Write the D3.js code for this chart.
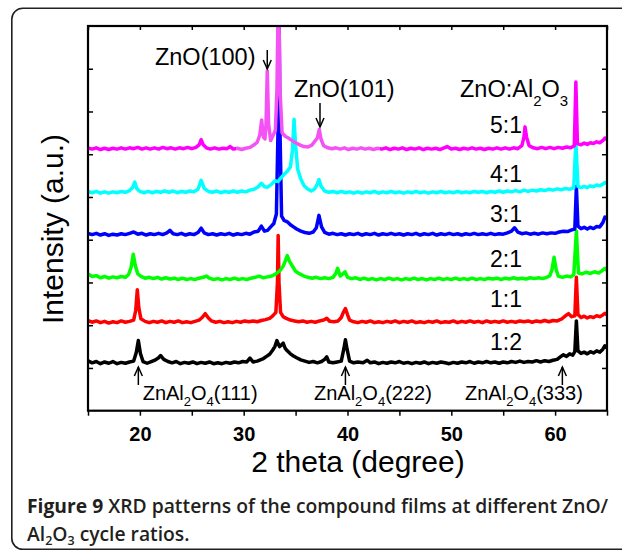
<!DOCTYPE html>
<html>
<head>
<meta charset="utf-8">
<script src="https://cdn.jsdelivr.net/npm/d3@7"></script>
<style>
  body { margin: 0; background: #fff; }
  svg { display: block; font-family: "Liberation Sans", Arial, sans-serif; }
  .axis path.domain { display: none; }
  .axis line { stroke: #000; stroke-width: 1.5; }
  .caption { font-family: "Open Sans", sans-serif; font-size: 19.3px; font-weight: 600; fill: #231f20; }
</style>
</head>
<body>
<script>
// XRD patterns, stacked with offsets as in the figure: [2theta, intensity (a.u.)]
const ratio12 = [[15,1.17],[15.4,1.12],[15.8,1.15],[16.2,1.10],[16.6,1.14],[17,1.11],[17.4,1.15],[17.8,1.10],[18.2,1.13],[18.6,1.11],[19,1.14],[19.4,1.16],[19.65,1.36],[19.85,1.64],[20.05,1.34],[20.3,1.15],[20.7,1.11],[21.1,1.15],[21.5,1.19],[21.8,1.24],[22.0,1.29],[22.3,1.2],[22.7,1.15],[23.1,1.12],[23.5,1.15],[23.9,1.1],[24.3,1.13],[24.7,1.11],[25.1,1.14],[25.5,1.1],[25.9,1.13],[26.3,1.11],[26.7,1.14],[27.1,1.1],[27.5,1.12],[27.9,1.1],[28.3,1.13],[28.7,1.11],[29.1,1.14],[29.5,1.12],[29.9,1.15],[30.3,1.14],[30.6,1.23],[30.9,1.14],[31.3,1.16],[31.6,1.19],[31.9,1.22],[32.2,1.27],[32.5,1.32],[32.8,1.42],[33.0,1.5],[33.2,1.64],[33.45,1.5],[33.65,1.54],[33.8,1.58],[34.0,1.46],[34.2,1.4],[34.5,1.33],[34.8,1.28],[35.1,1.24],[35.5,1.19],[35.9,1.16],[36.3,1.13],[36.7,1.15],[37.1,1.12],[37.5,1.15],[37.8,1.2],[38.0,1.26],[38.2,1.14],[38.6,1.12],[39.0,1.14],[39.4,1.16],[39.65,1.45],[39.8,1.66],[39.95,1.45],[40.2,1.16],[40.6,1.12],[41.0,1.14],[41.5,1.12],[41.9,1.18],[42.2,1.12],[42.6,1.14],[43.0,1.1],[43.4,1.13],[43.8,1.11],[44.2,1.14],[44.6,1.12],[45.0,1.15],[45.4,1.11],[45.8,1.13],[46.2,1.1],[46.6,1.13],[47.0,1.11],[47.4,1.14],[47.8,1.1],[48.2,1.13],[48.6,1.11],[49.0,1.14],[49.4,1.12],[49.8,1.1],[50.2,1.13],[50.6,1.11],[51.0,1.14],[51.4,1.12],[51.8,1.15],[52.2,1.11],[52.6,1.14],[53.0,1.12],[53.4,1.15],[53.8,1.12],[54.2,1.14],[54.6,1.11],[55.0,1.14],[55.4,1.12],[55.8,1.15],[56.2,1.13],[56.6,1.16],[57.0,1.13],[57.4,1.15],[57.8,1.14],[58.2,1.17],[58.6,1.14],[59.0,1.17],[59.4,1.15],[59.8,1.18],[60.2,1.2],[60.5,1.26],[60.8,1.31],[61.1,1.27],[61.4,1.33],[61.7,1.3],[61.9,1.38],[62.05,2.1],[62.2,1.4],[62.5,1.34],[62.8,1.37],[63.1,1.33],[63.4,1.38],[63.7,1.35],[64.0,1.4],[64.3,1.37],[64.6,1.44],[64.8,1.52],[65,1.47]];

const ratio11 = [[15,2.11],[15.4,2.07],[15.8,2.1],[16.2,2.06],[16.6,2.09],[17,2.05],[17.4,2.08],[17.8,2.06],[18.2,2.1],[18.6,2.07],[19,2.09],[19.4,2.12],[19.6,2.35],[19.75,2.83],[19.9,2.4],[20.1,2.15],[20.5,2.09],[20.9,2.06],[21.3,2.09],[21.7,2.07],[22.1,2.1],[22.5,2.06],[22.9,2.09],[23.3,2.07],[23.7,2.1],[24.1,2.06],[24.5,2.08],[24.9,2.06],[25.3,2.09],[25.7,2.12],[26.0,2.18],[26.3,2.27],[26.6,2.17],[26.9,2.1],[27.3,2.07],[27.7,2.09],[28.1,2.06],[28.5,2.08],[28.9,2.06],[29.3,2.09],[29.7,2.07],[30.1,2.1],[30.5,2.08],[30.9,2.1],[31.3,2.08],[31.7,2.11],[32.1,2.13],[32.5,2.16],[32.8,2.22],[33.1,2.3],[33.25,3.0],[33.32,4.1],[33.4,3.0],[33.55,2.3],[33.8,2.2],[34.1,2.16],[34.5,2.12],[34.9,2.1],[35.3,2.08],[35.7,2.1],[36.1,2.07],[36.5,2.09],[36.9,2.07],[37.3,2.1],[37.7,2.12],[38.0,2.16],[38.3,2.09],[38.7,2.08],[39.1,2.1],[39.4,2.18],[39.6,2.3],[39.8,2.39],[40.0,2.25],[40.2,2.12],[40.6,2.08],[41.0,2.06],[41.4,2.09],[41.8,2.07],[42.2,2.1],[42.6,2.06],[43.0,2.08],[43.4,2.06],[43.8,2.09],[44.2,2.07],[44.6,2.1],[45.0,2.06],[45.4,2.09],[45.8,2.07],[46.2,2.1],[46.6,2.06],[47.0,2.08],[47.4,2.06],[47.8,2.09],[48.2,2.07],[48.6,2.1],[49.0,2.06],[49.4,2.08],[49.8,2.07],[50.2,2.1],[50.6,2.06],[51.0,2.09],[51.4,2.07],[51.8,2.1],[52.2,2.07],[52.6,2.09],[53.0,2.06],[53.4,2.1],[53.8,2.07],[54.2,2.09],[54.6,2.07],[55.0,2.1],[55.4,2.07],[55.8,2.09],[56.2,2.07],[56.6,2.1],[57.0,2.08],[57.4,2.1],[57.8,2.07],[58.2,2.1],[58.6,2.08],[59.0,2.11],[59.4,2.08],[59.8,2.11],[60.2,2.1],[60.6,2.14],[61.0,2.22],[61.3,2.27],[61.6,2.2],[61.9,2.22],[62.05,3.12],[62.2,2.25],[62.5,2.18],[62.8,2.21],[63.1,2.17],[63.4,2.2],[63.7,2.18],[64.0,2.22],[64.3,2.2],[64.6,2.24],[64.8,2.28],[65,2.24]];

const ratio21 = [[15,3.2],[15.4,3.14],[15.8,3.16],[16.2,3.11],[16.6,3.14],[17,3.1],[17.4,3.13],[17.8,3.11],[18.2,3.14],[18.6,3.12],[18.9,3.18],[19.15,3.35],[19.36,3.66],[19.55,3.4],[19.8,3.2],[20.1,3.14],[20.5,3.1],[20.9,3.12],[21.3,3.09],[21.7,3.12],[22.1,3.08],[22.5,3.11],[22.9,3.08],[23.3,3.1],[23.7,3.07],[24.1,3.1],[24.5,3.07],[24.9,3.09],[25.3,3.07],[25.7,3.1],[26.1,3.12],[26.4,3.15],[26.7,3.1],[27.1,3.07],[27.5,3.09],[27.9,3.06],[28.3,3.09],[28.7,3.07],[29.1,3.1],[29.5,3.07],[29.9,3.09],[30.3,3.07],[30.7,3.1],[31.1,3.12],[31.5,3.15],[31.9,3.11],[32.3,3.13],[32.7,3.15],[33.1,3.2],[33.5,3.28],[33.8,3.38],[34.0,3.5],[34.2,3.63],[34.4,3.5],[34.7,3.38],[35.0,3.26],[35.4,3.2],[35.8,3.15],[36.2,3.12],[36.6,3.1],[37.0,3.12],[37.4,3.09],[37.8,3.11],[38.2,3.09],[38.6,3.12],[38.85,3.2],[39.05,3.33],[39.3,3.15],[39.55,3.2],[39.76,3.25],[40.0,3.12],[40.4,3.09],[40.8,3.11],[41.2,3.07],[41.6,3.1],[42.0,3.07],[42.4,3.09],[42.8,3.06],[43.2,3.09],[43.6,3.07],[44.0,3.1],[44.4,3.07],[44.8,3.09],[45.2,3.06],[45.6,3.09],[46.0,3.07],[46.4,3.1],[46.8,3.07],[47.2,3.09],[47.6,3.06],[48.0,3.09],[48.4,3.07],[48.8,3.1],[49.2,3.07],[49.6,3.09],[50.0,3.07],[50.4,3.1],[50.8,3.07],[51.2,3.09],[51.6,3.07],[52.0,3.1],[52.4,3.07],[52.8,3.09],[53.2,3.07],[53.6,3.1],[54.0,3.08],[54.4,3.1],[54.8,3.07],[55.2,3.1],[55.6,3.08],[56.0,3.11],[56.4,3.08],[56.8,3.1],[57.2,3.08],[57.6,3.11],[58.0,3.09],[58.4,3.11],[58.8,3.09],[59.2,3.12],[59.5,3.16],[59.7,3.3],[59.9,3.59],[60.1,3.3],[60.3,3.15],[60.7,3.12],[61.1,3.15],[61.5,3.13],[61.8,3.18],[62.05,4.2],[62.25,3.22],[62.6,3.2],[63.0,3.24],[63.4,3.21],[63.8,3.25],[64.2,3.22],[64.5,3.27],[64.8,3.33],[65,3.28]];

const ratio31 = [[15,4.15],[15.4,4.12],[15.8,4.15],[16.2,4.11],[16.6,4.14],[17,4.1],[17.4,4.13],[17.8,4.11],[18.2,4.14],[18.6,4.12],[19,4.15],[19.4,4.18],[19.8,4.13],[20.2,4.15],[20.6,4.11],[21,4.14],[21.4,4.12],[21.8,4.15],[22.2,4.12],[22.6,4.16],[22.9,4.22],[23.2,4.14],[23.6,4.12],[24,4.15],[24.4,4.11],[24.8,4.14],[25.2,4.12],[25.6,4.17],[25.9,4.27],[26.2,4.16],[26.6,4.12],[27,4.14],[27.4,4.11],[27.8,4.14],[28.2,4.12],[28.6,4.15],[29,4.11],[29.4,4.14],[29.8,4.12],[30.2,4.15],[30.6,4.13],[31.0,4.18],[31.4,4.2],[31.7,4.32],[32.0,4.2],[32.3,4.22],[32.6,4.3],[32.9,4.38],[33.15,4.6],[33.3,6.5],[33.4,9.6],[33.5,6.5],[33.65,4.55],[33.9,4.45],[34.2,4.42],[34.5,4.35],[34.8,4.3],[35.1,4.25],[35.5,4.2],[35.9,4.17],[36.3,4.15],[36.7,4.18],[37.0,4.28],[37.25,4.57],[37.5,4.3],[37.8,4.17],[38.2,4.13],[38.6,4.15],[39,4.12],[39.4,4.14],[39.8,4.11],[40.2,4.14],[40.6,4.12],[41,4.15],[41.4,4.11],[41.8,4.14],[42.2,4.12],[42.6,4.15],[43,4.11],[43.4,4.14],[43.8,4.12],[44.2,4.15],[44.6,4.12],[45,4.14],[45.4,4.11],[45.8,4.14],[46.2,4.12],[46.6,4.15],[47,4.11],[47.4,4.14],[47.8,4.12],[48.2,4.15],[48.6,4.11],[49,4.14],[49.4,4.12],[49.8,4.15],[50.2,4.12],[50.6,4.14],[51,4.11],[51.4,4.14],[51.8,4.12],[52.2,4.15],[52.6,4.12],[53,4.14],[53.4,4.12],[53.8,4.15],[54.2,4.12],[54.6,4.14],[55,4.13],[55.4,4.16],[55.8,4.2],[56.1,4.28],[56.4,4.18],[56.8,4.14],[57.2,4.16],[57.6,4.13],[58,4.15],[58.4,4.13],[58.8,4.16],[59.2,4.14],[59.6,4.16],[60,4.15],[60.4,4.18],[60.8,4.2],[61.2,4.19],[61.6,4.23],[61.9,4.25],[62.05,5.25],[62.2,4.32],[62.5,4.26],[62.8,4.29],[63.1,4.25],[63.4,4.29],[63.7,4.26],[64.0,4.31],[64.3,4.3],[64.6,4.4],[64.8,4.53],[65,4.5]];

const ratio41 = [[15,5.13],[15.4,5.1],[15.8,5.13],[16.2,5.09],[16.6,5.12],[17,5.09],[17.4,5.12],[17.8,5.1],[18.2,5.13],[18.6,5.11],[19,5.15],[19.3,5.22],[19.5,5.35],[19.7,5.2],[20,5.13],[20.4,5.1],[20.8,5.13],[21.2,5.1],[21.6,5.13],[22,5.11],[22.4,5.14],[22.8,5.11],[23.2,5.14],[23.6,5.1],[24,5.13],[24.4,5.11],[24.8,5.14],[25.2,5.12],[25.6,5.18],[25.9,5.39],[26.2,5.2],[26.6,5.13],[27,5.11],[27.4,5.14],[27.8,5.1],[28.2,5.13],[28.6,5.11],[29,5.14],[29.4,5.11],[29.8,5.14],[30.2,5.12],[30.6,5.16],[31.0,5.18],[31.4,5.24],[31.7,5.32],[32.0,5.24],[32.3,5.23],[32.7,5.3],[33.0,5.38],[33.3,5.36],[33.6,5.45],[33.9,5.53],[34.2,5.6],[34.5,5.7],[34.7,6.1],[34.85,6.82],[35.0,6.2],[35.2,5.65],[35.5,5.42],[35.8,5.27],[36.1,5.2],[36.5,5.14],[36.8,5.18],[37.05,5.28],[37.25,5.41],[37.45,5.25],[37.8,5.14],[38.2,5.11],[38.6,5.13],[39,5.1],[39.4,5.13],[39.8,5.1],[40.2,5.12],[40.6,5.09],[41,5.12],[41.4,5.09],[41.8,5.12],[42.2,5.1],[42.6,5.13],[43,5.09],[43.4,5.12],[43.8,5.1],[44.2,5.13],[44.6,5.1],[45,5.12],[45.4,5.09],[45.8,5.12],[46.2,5.1],[46.6,5.13],[47,5.1],[47.4,5.12],[47.8,5.09],[48.2,5.12],[48.6,5.1],[49,5.13],[49.4,5.1],[49.8,5.12],[50.2,5.1],[50.6,5.13],[51,5.1],[51.4,5.12],[51.8,5.1],[52.2,5.13],[52.6,5.11],[53,5.13],[53.4,5.1],[53.8,5.13],[54.2,5.11],[54.6,5.14],[55,5.11],[55.4,5.14],[55.8,5.12],[56.2,5.15],[56.6,5.12],[57,5.16],[57.4,5.13],[57.8,5.16],[58.2,5.14],[58.6,5.17],[59,5.15],[59.4,5.18],[59.8,5.16],[60.2,5.19],[60.6,5.17],[61,5.2],[61.4,5.18],[61.8,5.22],[62.0,6.3],[62.2,5.25],[62.5,5.22],[62.8,5.25],[63.1,5.22],[63.4,5.26],[63.7,5.24],[64,5.28],[64.3,5.26],[64.6,5.3],[64.8,5.34],[65,5.31]];

const ratio51 = [[15,6.15],[15.4,6.12],[15.8,6.15],[16.2,6.11],[16.6,6.14],[17,6.11],[17.4,6.14],[17.8,6.12],[18.2,6.15],[18.6,6.12],[19,6.15],[19.4,6.13],[19.8,6.16],[20.2,6.12],[20.6,6.15],[21,6.12],[21.4,6.15],[21.8,6.12],[22.2,6.16],[22.6,6.13],[23,6.15],[23.4,6.12],[23.8,6.15],[24.2,6.13],[24.6,6.16],[25,6.13],[25.4,6.16],[25.7,6.22],[25.9,6.34],[26.1,6.22],[26.4,6.15],[26.8,6.12],[27.2,6.15],[27.6,6.12],[28,6.14],[28.4,6.13],[28.7,6.18],[29,6.12],[29.4,6.14],[29.8,6.11],[30.2,6.14],[30.6,6.16],[31.0,6.22],[31.3,6.28],[31.55,6.45],[31.73,6.8],[31.9,6.4],[32.05,6.36],[32.15,6.7],[32.27,7.95],[32.4,6.7],[32.6,6.32],[32.85,6.45],[33.05,6.56],[33.2,7.5],[33.35,10],[33.5,7.5],[33.7,6.5],[34.0,6.42],[34.3,6.38],[34.6,6.33],[35.0,6.27],[35.4,6.22],[35.8,6.18],[36.2,6.17],[36.6,6.22],[36.9,6.32],[37.1,6.38],[37.28,6.58],[37.45,6.35],[37.7,6.2],[38.1,6.15],[38.5,6.13],[38.9,6.15],[39.3,6.12],[39.7,6.15],[40.1,6.11],[40.5,6.14],[40.9,6.12],[41.3,6.15],[41.7,6.12],[42.1,6.14],[42.5,6.11],[42.9,6.14],[43.3,6.12],[43.7,6.15],[44.1,6.11],[44.5,6.14],[44.9,6.12],[45.3,6.15],[45.7,6.11],[46.1,6.14],[46.5,6.12],[46.9,6.15],[47.3,6.11],[47.7,6.14],[48.1,6.12],[48.5,6.14],[48.9,6.11],[49.3,6.15],[49.6,6.18],[50,6.12],[50.4,6.14],[50.8,6.11],[51.2,6.14],[51.6,6.12],[52,6.15],[52.4,6.12],[52.8,6.14],[53.2,6.11],[53.6,6.14],[54,6.12],[54.4,6.15],[54.8,6.12],[55.2,6.15],[55.6,6.12],[56,6.15],[56.4,6.13],[56.8,6.2],[57.0,6.4],[57.1,6.64],[57.25,6.4],[57.5,6.2],[57.9,6.15],[58.3,6.13],[58.7,6.16],[59.1,6.13],[59.5,6.16],[59.9,6.13],[60.3,6.16],[60.7,6.14],[61.1,6.17],[61.5,6.15],[61.85,6.2],[62.0,7.69],[62.15,6.25],[62.5,6.22],[62.8,6.26],[63.1,6.23],[63.4,6.27],[63.7,6.25],[64,6.29],[64.3,6.27],[64.6,6.32],[64.8,6.38],[65,6.35]];

// drawing order: bottom trace first
const seriesData = [ratio12, ratio11, ratio21, ratio31, ratio41, ratio51];
const seriesColors = ["#000000", "#ff0000", "#00ff00", "#0000ff", "#00ffff", "#ff00ff"];
const ratioLabels = ["1:2", "1:1", "2:1", "3:1", "4:1", "5:1"];
const ratioLabelY = [1.42, 2.43, 3.36, 4.41, 5.35, 6.50];

const xTicks = [15, 20, 25, 30, 35, 40, 45, 50, 55, 60, 65];
const xTickLabels = [20, 30, 40, 50, 60];

// ZnO reflections (arrow down) and ZnAl2O4 reflections (arrow up)
const znoPeaks = [32.27, 37.35];
const znoNames = ["ZnO(100)", "ZnO(101)"];
const spinelPeaks = [19.85, 39.8, 60.7];
const spinelHkl = ["(111)", "(222)", "(333)"];
const spinelTextStart = [20.27, 36.77, 51.32];

const W = 622, H = 551;
const plot = {left: 88, right: 607, top: 26, bottom: 410.7};

const svg = d3.select("body").append("svg")
    .attr("width", W)
    .attr("height", H);

// rounded figure box
svg.append("rect")
    .attr("x", 11.8).attr("y", 8.3)
    .attr("width", 700).attr("height", 541)
    .attr("rx", 11)
    .attr("fill", "none")
    .attr("stroke", "#231f20")
    .attr("stroke-width", 1.6);

const x = d3.scaleLinear().domain([15, 65]).range([plot.left, plot.right]);
const y = d3.scaleLinear().domain([0, 9]).range([plot.bottom, plot.top]);

svg.append("clipPath").attr("id", "plotClip")
  .append("rect")
    .attr("x", plot.left).attr("y", plot.top)
    .attr("width", plot.right - plot.left).attr("height", plot.bottom - plot.top);

// lighter stretch of the 5:1 trace
const grad = svg.append("defs").append("linearGradient")
    .attr("id", "magFade")
    .attr("gradientUnits", "userSpaceOnUse")
    .attr("x1", x(15)).attr("x2", x(65)).attr("y1", 0).attr("y2", 0);
const f1 = (29.3 - 15) / 50, f2 = (43.1 - 15) / 50;
[[0, "#ff00ff"], [f1, "#ff00ff"], [f1, "#f552f5"], [f2, "#f552f5"], [f2, "#ff00ff"], [1, "#ff00ff"]]
  .forEach(s => grad.append("stop").attr("offset", s[0]).attr("stop-color", s[1]));

const line = d3.line()
    .x(d => x(d[0]))
    .y(d => y(d[1]));

svg.append("g")
    .attr("clip-path", "url(#plotClip)")
  .selectAll("path")
  .data(seriesData)
  .enter()
  .append("path")
    .attr("d", line)
    .attr("fill", "none")
    .attr("stroke", (d, i) => i === 5 ? "url(#magFade)" : seriesColors[i])
    .attr("stroke-width", 3.5)
    .attr("stroke-linejoin", "round");

// axes
svg.append("g")
    .attr("class", "axis")
    .attr("transform", `translate(0,${plot.bottom})`)
    .call(d3.axisBottom(x).tickValues(xTicks).tickSize(5)
        .tickFormat(d => xTickLabels.includes(d) ? d : ""))
    .selectAll("text")
    .attr("y", 30)
    .attr("dy", null)
    .attr("fill", "#000")
    .attr("font-size", 20)
    .attr("font-weight", "bold")
    .attr("font-family", "Liberation Sans, Arial, sans-serif");

svg.append("g")
    .attr("class", "axis")
    .attr("transform", `translate(0,${plot.top})`)
    .call(d3.axisTop(x).tickValues(xTicks).tickSize(-4).tickFormat(""));

svg.append("g")
    .attr("class", "axis")
    .attr("transform", `translate(${plot.left},0)`)
    .call(d3.axisLeft(y).tickValues(d3.range(1, 9)).tickSize(-5).tickFormat(""));

svg.append("g")
    .attr("class", "axis")
    .attr("transform", `translate(${plot.right},0)`)
    .call(d3.axisRight(y).tickValues(d3.range(1, 9)).tickSize(-5).tickFormat(""));

svg.append("rect")
    .attr("x", plot.left).attr("y", plot.top)
    .attr("width", plot.right - plot.left).attr("height", plot.bottom - plot.top)
    .attr("fill", "none")
    .attr("stroke", "#000")
    .attr("stroke-width", 2.2);

// axis titles
svg.append("text")
    .attr("x", 358).attr("y", 472)
    .attr("text-anchor", "middle")
    .attr("font-size", 30)
    .text("2 theta (degree)");

svg.append("text")
    .attr("transform", "translate(63,229) rotate(-90)")
    .attr("text-anchor", "middle")
    .attr("font-size", 30)
    .text("Intensity (a.u.)");

// ratio labels
svg.append("g").selectAll("text")
  .data(ratioLabels)
  .enter()
  .append("text")
    .attr("x", x(53.73))
    .attr("y", (d, i) => y(ratioLabelY[i]))
    .attr("font-size", 23)
    .text(d => d);

const title = svg.append("text")
    .attr("x", x(50.84)).attr("y", 96.7)
    .attr("font-size", 23.5);
title.append("tspan").text("ZnO:Al");
title.append("tspan").attr("font-size", 15).attr("dy", 9).text("2");
title.append("tspan").attr("dy", -9).text("O");
title.append("tspan").attr("font-size", 15).attr("dy", 9).text("3");

// ZnO peak labels with down arrows
const arrow = (g, px, yFrom, yTo) => {
    const dir = yTo > yFrom ? 1 : -1;
    g.append("line")
        .attr("x1", px).attr("x2", px)
        .attr("y1", yFrom).attr("y2", yTo)
        .attr("stroke", "#000").attr("stroke-width", 1.5);
    g.append("path")
        .attr("d", `M${px - 4},${yTo - dir * 9}L${px},${yTo}L${px + 4},${yTo - dir * 9}`)
        .attr("fill", "none").attr("stroke", "#000").attr("stroke-width", 1.5);
};

const notes = svg.append("g");
const znoTextStart = [21.45, 34.85];
const znoTextY = [64.5, 96.7];
const znoArrowY = [[50, 69], [103, 127]];
znoPeaks.forEach((p, i) => {
    notes.append("text")
        .attr("x", x(znoTextStart[i])).attr("y", znoTextY[i])
        .attr("font-size", 23.5)
        .text(znoNames[i]);
    arrow(notes, x(p), znoArrowY[i][0], znoArrowY[i][1]);
});

spinelPeaks.forEach((p, i) => {
    const t = notes.append("text")
        .attr("x", x(spinelTextStart[i])).attr("y", 400)
        .attr("font-size", 20);
    t.append("tspan").text("ZnAl");
    t.append("tspan").attr("font-size", 13).attr("dy", 6).text("2");
    t.append("tspan").attr("dy", -6).text("O");
    t.append("tspan").attr("font-size", 13).attr("dy", 6).text("4");
    t.append("tspan").attr("dy", -6).text(spinelHkl[i]);
    arrow(notes, x(p), 385, 367);
});

// caption
const cap1 = svg.append("text").attr("class", "caption").attr("x", 27).attr("y", 513);
cap1.append("tspan").attr("font-weight", 700).text("Figure 9");
cap1.append("tspan").text(" XRD patterns of the compound films at different ZnO/");
const cap2 = svg.append("text").attr("class", "caption").attr("x", 27).attr("y", 541);
cap2.append("tspan").text("Al");
cap2.append("tspan").attr("font-size", 12.5).attr("dy", 4).text("2");
cap2.append("tspan").attr("dy", -4).text("O");
cap2.append("tspan").attr("font-size", 12.5).attr("dy", 4).text("3");
cap2.append("tspan").attr("dy", -4).text(" cycle ratios.");
</script>
</body>
</html>
